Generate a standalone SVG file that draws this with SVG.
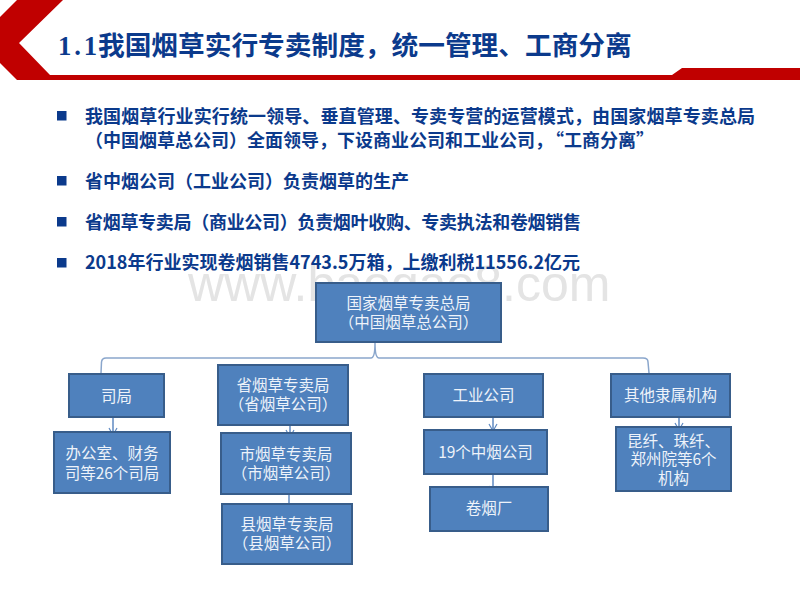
<svg xmlns="http://www.w3.org/2000/svg" width="800" height="600" viewBox="0 0 800 600">
<style>
.b{fill:#4f81bd;stroke:#385d8a;stroke-width:2}
.t{font-family:"Noto Sans CJK SC","Liberation Sans",sans-serif;font-size:15.5px;fill:#eef3fa;text-anchor:middle}
.h{font-family:"Noto Sans CJK SC","Liberation Sans",sans-serif;font-size:18px;font-weight:700;fill:#0b3a8c}
.c{fill:none;stroke:#8aa6cc;stroke-width:1.5}
.a{fill:none;stroke:#5f8ac2;stroke-width:1.5}
</style>
<defs><marker id="m" markerWidth="10" markerHeight="10" refX="8" refY="5" orient="auto" markerUnits="userSpaceOnUse"><path d="M1 1L8 5L1 9" fill="none" stroke="#5f8ac2" stroke-width="1.2"/></marker></defs>
<rect width="800" height="600" fill="#fff"/>
<text x="188" y="301" font-family="Liberation Sans,sans-serif" font-size="50" fill="#e4e4e4">www.baogao8.com</text>
<polygon points="17,0 63,0 19,43 50,75 672,75 682,68 800,68 800,80 17,80 0,63 0,17" fill="#c00000"/>
<text x="58" y="55" font-family="Liberation Serif,Noto Sans CJK SC,serif" font-size="26.7" font-weight="700" fill="#0b3a8c" textLength="39">1.1</text>
<text x="98" y="55" font-family="Noto Sans CJK SC,sans-serif" font-size="26.7" font-weight="700" fill="#0b3a8c">我国烟草实行专卖制度，统一管理、工商分离</text>
<g fill="#0b3a8c"><rect x="57" y="111" width="9.500" height="9.500"/><rect x="57" y="176" width="9.500" height="9.500"/><rect x="57" y="217" width="9.500" height="9.500"/><rect x="57" y="258" width="9.500" height="9.500"/></g>
<text class="h" x="85" y="122.500" textLength="670">我国烟草行业实行统一领导、垂直管理、专卖专营的运营模式，由国家烟草专卖总局</text>
<text class="h" x="85" y="147">（中国烟草总公司）全面领导，下设商业公司和工业公司，<tspan dx="2">“工商分离”</tspan></text>
<text class="h" x="85" y="188">省中烟公司（工业公司）负责烟草的生产</text>
<text class="h" x="85" y="229" textLength="496">省烟草专卖局（商业公司）负责烟叶收购、专卖执法和卷烟销售</text>
<text class="h" x="85" y="269">2018年行业实现卷烟销售4743.5万箱，上缴利税11556.2亿元</text>
<g id="connectors">
<path class="c" d="M375 343Q375 358 371 358H106Q102 358 101.500 362L101 373M375 343Q375 358 379 358H643Q648 358 648 362L649 373"/>
<path class="a" marker-end="url(#m)" d="M113 418V435"/>
<path class="a" marker-end="url(#m)" d="M290 426V437"/>
<path class="a" marker-end="url(#m)" d="M289 495V511"/>
<path class="a" marker-end="url(#m)" d="M493 418V431"/>
<path class="a" marker-end="url(#m)" d="M493 475V493"/>
<path class="a" marker-end="url(#m)" d="M679 418V430"/>
</g>
<g id="n1"><rect class="b" x="316" y="283" width="185" height="59"/><text class="t" x="408.500" y="309">国家烟草专卖总局</text><text class="t" x="408.500" y="328">（中国烟草总公司）</text></g>
<g id="n2"><rect class="b" x="69" y="374" width="95" height="43"/><text class="t" x="116.500" y="402">司局</text></g>
<g id="n3"><rect class="b" x="218" y="365" width="130" height="60"/><text class="t" x="283" y="391">省烟草专卖局</text><text class="t" x="283" y="410">（省烟草公司）</text></g>
<g id="n4"><rect class="b" x="424" y="374" width="119" height="43"/><text class="t" x="483.500" y="401">工业公司</text></g>
<g id="n5"><rect class="b" x="611" y="374" width="119" height="43"/><text class="t" x="670.500" y="401">其他隶属机构</text></g>
<g id="n6"><rect class="b" x="54" y="432" width="116" height="61"/><text class="t" x="112" y="459">办公室、财务</text><text class="t" x="112" y="479">司等26个司局</text></g>
<g id="n7"><rect class="b" x="221" y="433" width="130" height="61"/><text class="t" x="286" y="460">市烟草专卖局</text><text class="t" x="286" y="479">（市烟草公司）</text></g>
<g id="n8"><rect class="b" x="222" y="504" width="130" height="60"/><text class="t" x="287" y="530">县烟草专卖局</text><text class="t" x="287" y="549">（县烟草公司）</text></g>
<g id="n9"><rect class="b" x="424" y="430" width="123" height="44"/><text class="t" x="485.500" y="458">19个中烟公司</text></g>
<g id="n10"><rect class="b" x="430" y="487" width="118" height="44"/><text class="t" x="489" y="514">卷烟厂</text></g>
<g id="n11"><rect class="b" x="616" y="427" width="115" height="64"/><text class="t" x="673.500" y="447">昆纤、珠纤、</text><text class="t" x="673.500" y="465">郑州院等6个</text><text class="t" x="673.500" y="484">机构</text></g>
</svg>
